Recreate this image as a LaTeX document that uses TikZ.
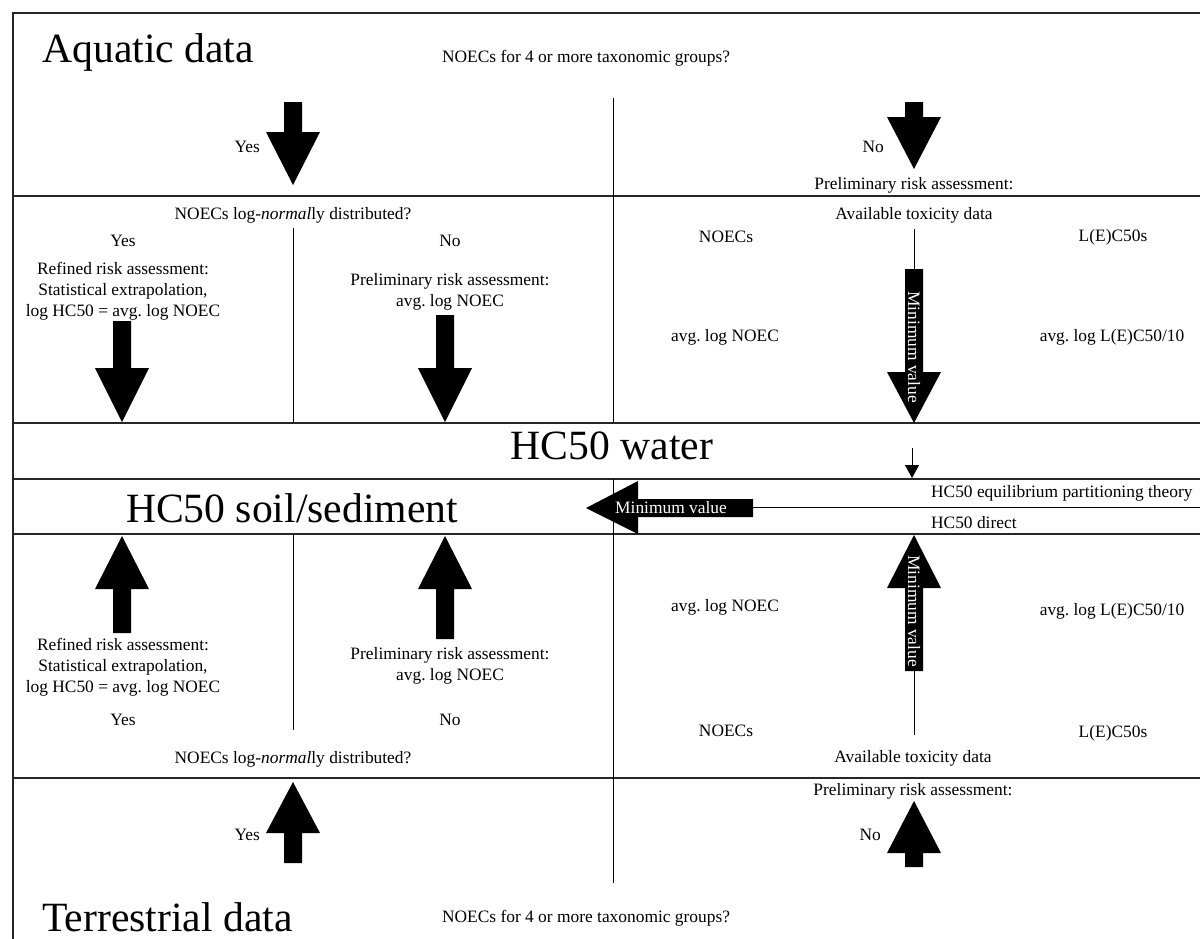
\documentclass[tikz,border=0pt]{standalone}
\usepackage{fontspec}
\setmainfont{Liberation Serif}
\usetikzlibrary{arrows.meta}

\tikzset{
  lbl/.style={font=\fontsize{9.9}{11.9}\selectfont, align=center, inner sep=1pt},
  title/.style={font=\fontsize{23.7}{28}\selectfont, inner sep=0pt},
  rule/.style={line width=.9pt, color=black!85},
  sep/.style={line width=.55pt},
}
% block arrow: x, tail y, neck y, tip y
\newcommand{\blockarr}[4]{\fill (#1-9,#2) -- (#1+9,#2) -- (#1+9,#3) -- (#1+27,#3) -- (#1,#4) -- (#1-27,#3) -- (#1-9,#3) -- cycle;}

\begin{document}
\begin{tikzpicture}[x=0.02cm, y=-0.02cm]
\useasboundingbox (0,0) rectangle (1200,938);

% frame and rows
\draw[rule] (1200,13) -- (13,13) -- (13,940);
\draw[rule] (13,196) -- (1200,196);
\draw[rule] (13,423) -- (1200,423);
\draw[rule] (13,479) -- (1200,479);
\draw[rule] (13,534) -- (1200,534);
\draw[rule] (13,778) -- (1200,778);

% ... vert. dividers
\draw[sep] (613,98) -- (613,423);
\draw[sep] (613,479) -- (613,883);
\draw[sep] (293,228) -- (293,423);
\draw[sep] (293,534) -- (293,730);

% aquatic (top)
\node[title, anchor=base west] (aqua) at (42,62) {Aquatic data};
\node[lbl, anchor=west] (grpT) at (440,58) {NOECs for 4 or more taxonomic groups?};
\blockarr{293}{102}{132}{185}
\node[lbl, anchor=east] (yesT) at (262,147) {Yes};
\blockarr{914}{102}{117}{169}
\node[lbl, anchor=east] (noT) at (886,147) {No};
\node[lbl] (prelT) at (914,185) {Preliminary risk assessment:};

% ... log-normal (top)
\node[lbl] (lognT) at (293,215) {NOECs log-\textit{normal}ly distributed?};
\node[lbl] (yesLT) at (123,241) {Yes};
\node[lbl] (noLT) at (450,241) {No};
\node[lbl] (refT) at (123,291) {Refined risk assessment:\\Statistical extrapolation,\\log HC50 = avg.\ log NOEC};
\blockarr{122}{321}{368}{422}
\node[lbl] (preT) at (450,292) {Preliminary risk assessment:\\avg.\ log NOEC};
\blockarr{445}{315}{368}{422}

% ... toxicity data (top)
\node[lbl] (avT) at (914,215) {Available toxicity data};
\node[lbl] (noecT) at (726,237) {NOECs};
\node[lbl] (lecT) at (1113,237) {L(E)C50s};
\node[lbl] (avgT) at (725,337) {avg.\ log NOEC};
\node[lbl] (avglT) at (1112,337) {avg.\ log L(E)C50/10};
\coordinate (minT) at (914,269);
\draw[sep, shorten <=2pt] (avT) -- (minT);
\blockarr{914}{269}{372}{423}
\node[lbl, rotate=-90, text=white] (minvT) at (914,347) {Minimum value};

% HC50 water
\node[title, anchor=base] (hcw) at (612,459) {HC50 water};
\coordinate (wTop) at (912,448);
\coordinate (wBot) at (912,478);
\draw[sep, -{Triangle[length=2.6mm, width=2.8mm]}] (wTop) -- (wBot);

% HC50 soil/sediment
\node[title, anchor=base] (hcs) at (292,522) {HC50 soil/sediment};
\draw[sep] (753,507) -- (1200,507);
\node[lbl, anchor=west] (eqp) at (929,493) {HC50 equilibrium partitioning theory};
\node[lbl, anchor=west] (dir) at (929,523) {HC50 direct};
\fill (586,508) -- (638,481) -- (638,499) -- (753,499) -- (753,517) -- (638,517) -- (638,534) -- cycle;
\node[lbl, text=white] (minvS) at (671,508) {Minimum value};

% ... log-normal (bottom)
\blockarr{122}{633}{589}{536}
\blockarr{445}{639}{589}{536}
\node[lbl] (refB) at (123,667) {Refined risk assessment:\\Statistical extrapolation,\\log HC50 = avg.\ log NOEC};
\node[lbl] (preB) at (450,666) {Preliminary risk assessment:\\avg.\ log NOEC};
\node[lbl] (yesLB) at (123,720) {Yes};
\node[lbl] (noLB) at (450,720) {No};
\node[lbl] (lognB) at (293,759) {NOECs log-\textit{normal}ly distributed?};

% ... toxicity data (bottom)
\blockarr{914}{671}{588}{535}
\node[lbl, rotate=-90, text=white] (minvB) at (914,611) {Minimum value};
\node[lbl] (avgB) at (725,607) {avg.\ log NOEC};
\node[lbl] (avglB) at (1112,611) {avg.\ log L(E)C50/10};
\node[lbl] (noecB) at (726,731) {NOECs};
\node[lbl] (lecB) at (1113,733) {L(E)C50s};
\node[lbl] (avB) at (913,758) {Available toxicity data};
\coordinate (minB) at (914,671);
\coordinate (avBtop) at (914,735);
\draw[sep] (minB) -- (avBtop);

% terrestrial (bottom)
\node[lbl] (prelB) at (913,791) {Preliminary risk assessment:};
\blockarr{293}{863}{833}{782}
\node[lbl, anchor=east] (yesB) at (262,835) {Yes};
\blockarr{914}{867}{853}{801}
\node[lbl, anchor=east] (noB) at (883,835) {No};
\node[title, anchor=base west] (terr) at (42,931) {Terrestrial data};
\node[lbl, anchor=west] (grpB) at (440,918) {NOECs for 4 or more taxonomic groups?};

\end{tikzpicture}
\end{document}
